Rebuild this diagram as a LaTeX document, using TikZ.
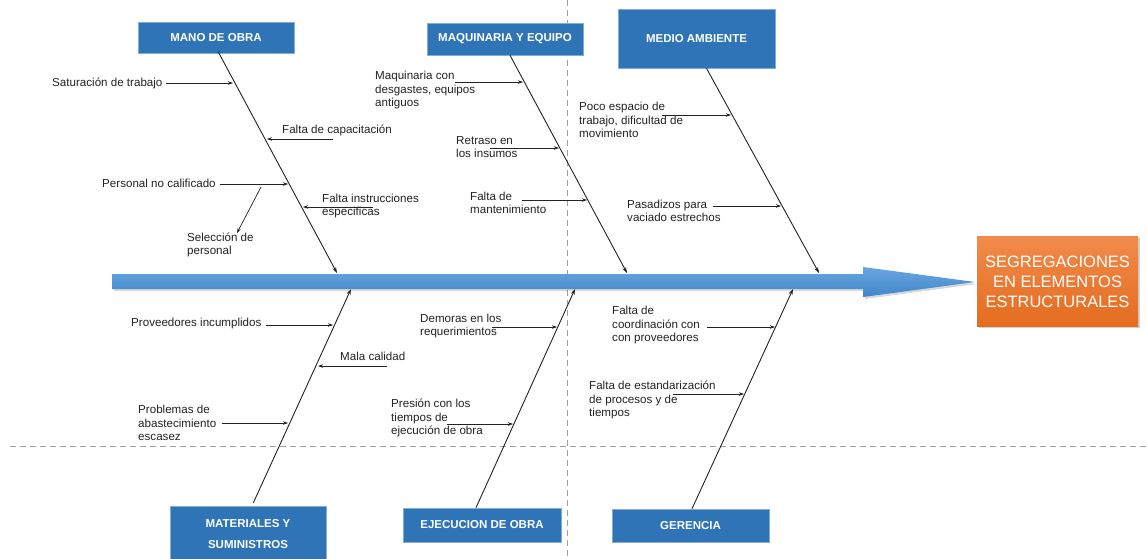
\documentclass[tikz,border=0pt]{standalone}
\usepackage{fontspec}
\setmainfont{Liberation Sans}
\usetikzlibrary{arrows.meta}
\definecolor{boxblue}{RGB}{46,116,182}
\definecolor{spinetop}{RGB}{104,166,224}
\definecolor{spinebot}{RGB}{66,135,202}
\definecolor{orangetop}{RGB}{241,139,75}
\definecolor{orangebot}{RGB}{228,108,30}
\definecolor{ink}{RGB}{35,35,35}
\begin{document}
\begin{tikzpicture}[x=1pt,y=-1pt,
  cat/.style={fill=boxblue, draw=boxblue!60!white, line width=0.6pt, text=white,
    font=\bfseries\fontsize{11.5}{21}\selectfont, align=center, inner sep=0pt},
  lbl/.style={anchor=west, align=left, inner sep=0pt, text=ink,
    font=\fontsize{11.6}{13.2}\selectfont},
  sub/.style={draw=ink, line width=0.7pt, -{Stealth[length=5pt,width=3.5pt]}},
  bone/.style={draw=ink, line width=0.9pt, -{Stealth[length=6pt,width=4pt]}},
  guide/.style={draw=gray!75, line width=0.7pt, dash pattern=on 6pt off 4pt}]
\useasboundingbox (0,0) rectangle (1147,558);
\fill[white] (0,0) rectangle (1147,558);

% guide lines
\coordinate (vg1) at (567,0);
\coordinate (vg2) at (567,558);
\coordinate (hg1) at (10,446);
\coordinate (hg2) at (1147,446);
\draw[guide] (vg1) -- (vg2);
\draw[guide] (hg1) -- (hg2);

% spine
\fill[black, opacity=0.15] (114,276) -- (865,276) -- (865,269) -- (977,284) -- (865,299) -- (865,291) -- (114,291) -- cycle;
\shade[top color=spinetop, bottom color=spinebot]
  (112,274) -- (863,274) -- (863,267) -- (975,282) -- (863,297) -- (863,289) -- (112,289) -- cycle;

% effect box
\fill[black, opacity=0.18] (979,238) rectangle (1140,328);
\shade[top color=orangetop, bottom color=orangebot] (977,236) rectangle (1138,326);
\node[inner sep=0pt, text=white, align=center, font=\fontsize{16.5}{20}\selectfont]
  (effect) at (1057.5,282) {SEGREGACIONES\\EN ELEMENTOS\\ESTRUCTURALES};

% category boxes
\node[cat, minimum width=156pt, minimum height=31pt] (mano) at (216,37.5) {MANO DE OBRA};
\node[cat, minimum width=156pt, minimum height=32pt] (maq) at (505,39) {MAQUINARIA Y EQUIPO};
\node[cat, minimum width=157pt, minimum height=59pt] (medio) at (696.5,38.5) {MEDIO AMBIENTE};
\node[cat, minimum width=156pt, minimum height=56pt] (mat) at (248,534) {MATERIALES Y\\SUMINISTROS};
\node[cat, minimum width=158pt, minimum height=34pt] (ejec) at (482,525) {EJECUCION DE OBRA};
\node[cat, minimum width=157pt, minimum height=33pt] (ger) at (690.5,525.5) {GERENCIA};

% spine end points of bones
\coordinate (m1) at (337,273);
\coordinate (q1) at (627,273);
\coordinate (e1) at (819,273);
\coordinate (t1) at (351,289);
\coordinate (j1) at (575,289);
\coordinate (g1) at (793,289);

\draw[bone, shorten <=-2pt] ([xshift=3pt]mano.south) -- (m1);
\draw[bone] ([xshift=5pt]maq.south) -- (q1);
\draw[bone] ([xshift=10pt]medio.south) -- (e1);
\draw[bone, shorten <=3pt] ([xshift=4pt]mat.north) -- (t1);
\draw[bone] ([xshift=-6pt]ejec.north) -- (j1);
\draw[bone] ([xshift=1.5pt]ger.north) -- (g1);

% labels - mano de obra
\node[lbl] (l1) at (52,83) {Saturación de trabajo};
\node[lbl] (l2) at (282,130) {Falta de capacitación};
\node[lbl] (l3) at (102,183) {Personal no calificado};
\node[lbl] (l4) at (187,245) {Selección de\\personal};
\node[lbl] (l5) at (322,206) {Falta instrucciones\\especificas};
% maquinaria
\node[lbl] (l6) at (375,90) {Maquinaria con\\desgastes, equipos\\antiguos};
\node[lbl] (l7) at (456,147) {Retraso en\\los insumos};
\node[lbl] (l8) at (470,203) {Falta de\\mantenimiento};
% medio ambiente
\node[lbl] (l9) at (579,120) {Poco espacio de\\trabajo, dificultad de\\movimiento};
\node[lbl] (l10) at (627,211) {Pasadizos para\\vaciado estrechos};
% materiales
\node[lbl] (l11) at (131,323) {Proveedores incumplidos};
\node[lbl] (l12) at (340,356) {Mala calidad};
\node[lbl] (l13) at (138,423) {Problemas de\\abastecimiento\\escasez};
% ejecucion
\node[lbl] (l14) at (420,326) {Demoras en los\\requerimientos};
\node[lbl] (l15) at (391,418) {Presión con los\\tiempos de\\ejecución de obra};
% gerencia
\node[lbl] (l16) at (612,325) {Falta de\\coordinación con\\con proveedores};
\node[lbl] (l17) at (589,400) {Falta de estandarización\\de procesos y de\\tiempos};

% sub-cause arrows
\coordinate (a1s) at (166,83);  \coordinate (a1e) at (233,83);
\coordinate (a2s) at (333,139); \coordinate (a2e) at (267,139);
\coordinate (a3s) at (220,184); \coordinate (a3e) at (288,184);
\coordinate (a4s) at (261,187); \coordinate (a4e) at (237,233);
\coordinate (a5s) at (373,207); \coordinate (a5e) at (303,207);
\coordinate (a6s) at (455,82);  \coordinate (a6e) at (523,82);
\coordinate (a7s) at (490,148); \coordinate (a7e) at (559,148);
\coordinate (a8s) at (522,200); \coordinate (a8e) at (587,200);
\coordinate (a9s) at (662,115); \coordinate (a9e) at (731,115);
\coordinate (a10s) at (713,206); \coordinate (a10e) at (781,206);
\coordinate (a11s) at (266,325); \coordinate (a11e) at (333,325);
\coordinate (a12s) at (387,366); \coordinate (a12e) at (318,366);
\coordinate (a13s) at (222,423); \coordinate (a13e) at (288,423);
\coordinate (a14s) at (492,327); \coordinate (a14e) at (557,327);
\coordinate (a15s) at (447,424); \coordinate (a15e) at (513,424);
\coordinate (a16s) at (707,327); \coordinate (a16e) at (775,327);
\coordinate (a17s) at (673,394); \coordinate (a17e) at (744,394);
\foreach \i in {1,...,17} {\draw[sub] (a\i s) -- (a\i e);}
\end{tikzpicture}
\end{document}
